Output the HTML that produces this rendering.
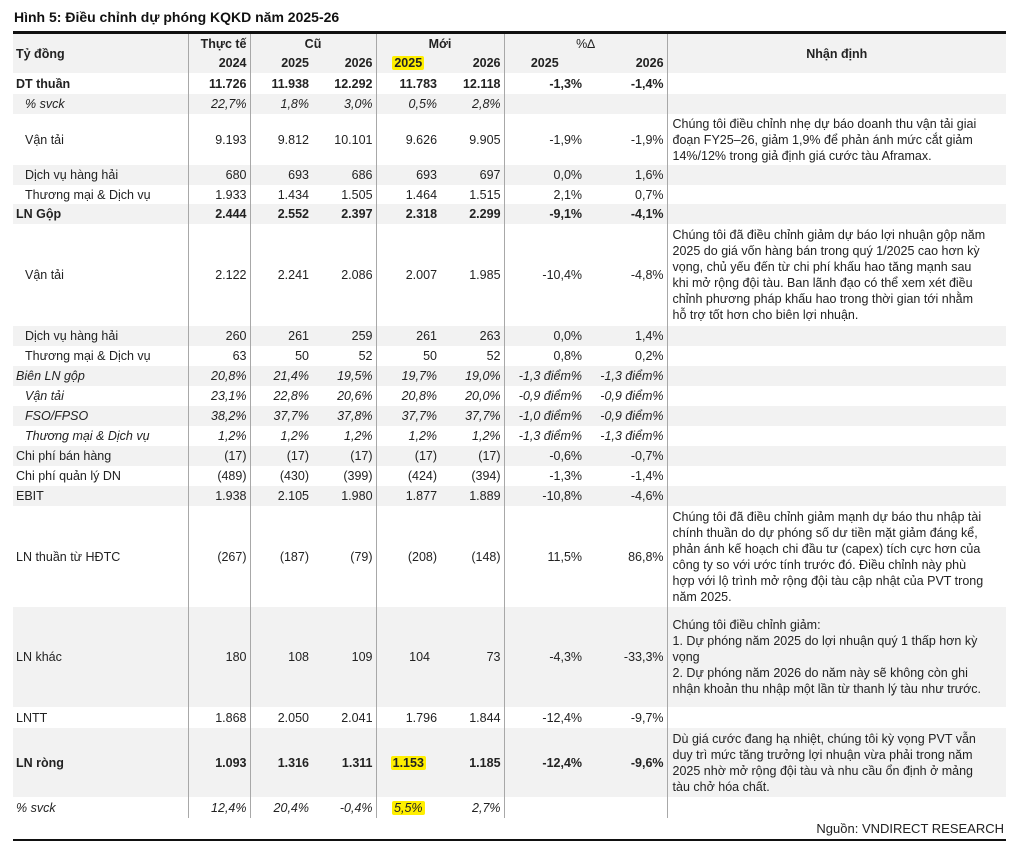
<!DOCTYPE html>
<html><head><meta charset="utf-8">
<style>
body{margin:0;width:1012px;height:842px;background:#fff;font-family:"Liberation Sans",Arial,sans-serif;color:#222;position:relative;overflow:hidden}
.title{position:absolute;left:14px;top:9px;font-size:14px;font-weight:bold;color:#111}
.topline{position:absolute;left:13px;top:31px;width:993px;height:3px;background:#111}
table{position:absolute;left:13px;top:34px;border-collapse:collapse;table-layout:fixed;width:993px;font-size:12.5px}
td{padding:0 3px;white-space:nowrap;text-align:right;overflow:visible;vertical-align:middle}
td.l{text-align:left;padding-left:3px}
td.i{padding-left:12px}
tr.g td{background:#f2f2f2}
.b td{font-weight:bold}
.it td{font-style:italic}
.vl{border-left:1px solid #a8a8a8}
td.n{text-align:left;white-space:nowrap;font-size:12.5px;line-height:16px;padding-left:5px;font-weight:normal;font-style:normal}
.hl{background:#ffef00;padding:0 2px;border-radius:2px}
.src{position:absolute;right:8px;top:821px;font-size:13px}
.botline{position:absolute;left:13px;top:839px;width:993px;height:2px;background:#111}
</style></head><body>
<div class="title">Hình 5: Điều chỉnh dự phóng KQKD năm 2025-26</div>
<div class="topline"></div>
<table>
<colgroup><col style="width:175px"><col style="width:62px"><col style="width:62px"><col style="width:64px"><col style="width:64px"><col style="width:64px"><col style="width:81px"><col style="width:82px"><col style="width:339px"></colgroup>
<tr class="g b" style="height:19px">
<td class="l" rowspan="2" style="background:#f2f2f2">Tỷ đồng</td><td class="vl">Thực tế</td><td class="vl" colspan="2" style="text-align:center">Cũ</td><td class="vl" colspan="2" style="text-align:center">Mới</td><td class="vl" colspan="2" style="text-align:center;font-weight:normal">%∆</td><td class="vl" rowspan="2" style="text-align:center;background:#f2f2f2">Nhận định</td></tr>
<tr class="g b" style="height:20px">
<td class="vl">2024</td><td class="vl">2025</td><td>2026</td><td class="vl" style="text-align:center"><span class="hl">2025</span></td><td>2026</td><td class="vl" style="text-align:center">2025</td><td>2026</td></tr>
<tr class="b" style="height:21px"><td class="l">DT thuần</td><td class="vl">11.726</td><td class="vl">11.938</td><td>12.292</td><td class="vl">11.783</td><td>12.118</td><td class="vl">-1,3%</td><td>-1,4%</td><td class="vl n"></td></tr>
<tr class="g it" style="height:20px"><td class="l i">% svck</td><td class="vl">22,7%</td><td class="vl">1,8%</td><td>3,0%</td><td class="vl">0,5%</td><td>2,8%</td><td class="vl"></td><td></td><td class="vl n"></td></tr>
<tr style="height:51px"><td class="l i">Vận tải</td><td class="vl">9.193</td><td class="vl">9.812</td><td>10.101</td><td class="vl">9.626</td><td>9.905</td><td class="vl">-1,9%</td><td>-1,9%</td><td class="vl n">Chúng tôi điều chỉnh nhẹ dự báo doanh thu vận tải giai<br>đoạn FY25–26, giảm 1,9% để phản ánh mức cắt giảm<br>14%/12% trong giả định giá cước tàu Aframax.</td></tr>
<tr class="g" style="height:20px"><td class="l i">Dịch vụ hàng hải</td><td class="vl">680</td><td class="vl">693</td><td>686</td><td class="vl">693</td><td>697</td><td class="vl">0,0%</td><td>1,6%</td><td class="vl n"></td></tr>
<tr style="height:19px"><td class="l i">Thương mại &amp; Dịch vụ</td><td class="vl">1.933</td><td class="vl">1.434</td><td>1.505</td><td class="vl">1.464</td><td>1.515</td><td class="vl">2,1%</td><td>0,7%</td><td class="vl n"></td></tr>
<tr class="g b" style="height:20px"><td class="l">LN Gộp</td><td class="vl">2.444</td><td class="vl">2.552</td><td>2.397</td><td class="vl">2.318</td><td>2.299</td><td class="vl">-9,1%</td><td>-4,1%</td><td class="vl n"></td></tr>
<tr style="height:102px"><td class="l i">Vận tải</td><td class="vl">2.122</td><td class="vl">2.241</td><td>2.086</td><td class="vl">2.007</td><td>1.985</td><td class="vl">-10,4%</td><td>-4,8%</td><td class="vl n">Chúng tôi đã điều chỉnh giảm dự báo lợi nhuận gộp năm<br>2025 do giá vốn hàng bán trong quý 1/2025 cao hơn kỳ<br>vọng, chủ yếu đến từ chi phí khấu hao tăng mạnh sau<br>khi mở rộng đội tàu. Ban lãnh đạo có thể xem xét điều<br>chỉnh phương pháp khấu hao trong thời gian tới nhằm<br>hỗ trợ tốt hơn cho biên lợi nhuận.</td></tr>
<tr class="g" style="height:20px"><td class="l i">Dịch vụ hàng hải</td><td class="vl">260</td><td class="vl">261</td><td>259</td><td class="vl">261</td><td>263</td><td class="vl">0,0%</td><td>1,4%</td><td class="vl n"></td></tr>
<tr style="height:20px"><td class="l i">Thương mại &amp; Dịch vụ</td><td class="vl">63</td><td class="vl">50</td><td>52</td><td class="vl">50</td><td>52</td><td class="vl">0,8%</td><td>0,2%</td><td class="vl n"></td></tr>
<tr class="g it" style="height:20px"><td class="l">Biên LN gộp</td><td class="vl">20,8%</td><td class="vl">21,4%</td><td>19,5%</td><td class="vl">19,7%</td><td>19,0%</td><td class="vl">-1,3 điểm%</td><td>-1,3 điểm%</td><td class="vl n"></td></tr>
<tr class="it" style="height:20px"><td class="l i">Vận tải</td><td class="vl">23,1%</td><td class="vl">22,8%</td><td>20,6%</td><td class="vl">20,8%</td><td>20,0%</td><td class="vl">-0,9 điểm%</td><td>-0,9 điểm%</td><td class="vl n"></td></tr>
<tr class="g it" style="height:20px"><td class="l i">FSO/FPSO</td><td class="vl">38,2%</td><td class="vl">37,7%</td><td>37,8%</td><td class="vl">37,7%</td><td>37,7%</td><td class="vl">-1,0 điểm%</td><td>-0,9 điểm%</td><td class="vl n"></td></tr>
<tr class="it" style="height:20px"><td class="l i">Thương mại &amp; Dịch vụ</td><td class="vl">1,2%</td><td class="vl">1,2%</td><td>1,2%</td><td class="vl">1,2%</td><td>1,2%</td><td class="vl">-1,3 điểm%</td><td>-1,3 điểm%</td><td class="vl n"></td></tr>
<tr class="g" style="height:20px"><td class="l">Chi phí bán hàng</td><td class="vl">(17)</td><td class="vl">(17)</td><td>(17)</td><td class="vl">(17)</td><td>(17)</td><td class="vl">-0,6%</td><td>-0,7%</td><td class="vl n"></td></tr>
<tr style="height:20px"><td class="l">Chi phí quản lý DN</td><td class="vl">(489)</td><td class="vl">(430)</td><td>(399)</td><td class="vl">(424)</td><td>(394)</td><td class="vl">-1,3%</td><td>-1,4%</td><td class="vl n"></td></tr>
<tr class="g" style="height:20px"><td class="l">EBIT</td><td class="vl">1.938</td><td class="vl">2.105</td><td>1.980</td><td class="vl">1.877</td><td>1.889</td><td class="vl">-10,8%</td><td>-4,6%</td><td class="vl n"></td></tr>
<tr style="height:101px"><td class="l">LN thuần từ HĐTC</td><td class="vl">(267)</td><td class="vl">(187)</td><td>(79)</td><td class="vl">(208)</td><td>(148)</td><td class="vl">11,5%</td><td>86,8%</td><td class="vl n">Chúng tôi đã điều chỉnh giảm mạnh dự báo thu nhập tài<br>chính thuần do dự phóng số dư tiền mặt giảm đáng kể,<br>phản ánh kế hoạch chi đầu tư (capex) tích cực hơn của<br>công ty so với ước tính trước đó. Điều chỉnh này phù<br>hợp với lộ trình mở rộng đội tàu cập nhật của PVT trong<br>năm 2025.</td></tr>
<tr class="g" style="height:100px"><td class="l">LN khác</td><td class="vl">180</td><td class="vl">108</td><td>109</td><td class="vl" style="padding-right:10px">104</td><td>73</td><td class="vl">-4,3%</td><td>-33,3%</td><td class="vl n">Chúng tôi điều chỉnh giảm:<br>1. Dự phóng năm 2025 do lợi nhuận quý 1 thấp hơn kỳ<br>vọng<br>2. Dự phóng năm 2026 do năm này sẽ không còn ghi<br>nhận khoản thu nhập một lần từ thanh lý tàu như trước.</td></tr>
<tr style="height:21px"><td class="l">LNTT</td><td class="vl">1.868</td><td class="vl">2.050</td><td>2.041</td><td class="vl">1.796</td><td>1.844</td><td class="vl">-12,4%</td><td>-9,7%</td><td class="vl n"></td></tr>
<tr class="g b" style="height:69px"><td class="l">LN ròng</td><td class="vl">1.093</td><td class="vl">1.316</td><td>1.311</td><td class="vl" style="text-align:center"><span class="hl">1.153</span></td><td>1.185</td><td class="vl">-12,4%</td><td>-9,6%</td><td class="vl n">Dù giá cước đang hạ nhiệt, chúng tôi kỳ vọng PVT vẫn<br>duy trì mức tăng trưởng lợi nhuận vừa phải trong năm<br>2025 nhờ mở rộng đội tàu và nhu cầu ổn định ở mảng<br>tàu chở hóa chất.</td></tr>
<tr class="it" style="height:21px"><td class="l">% svck</td><td class="vl">12,4%</td><td class="vl">20,4%</td><td>-0,4%</td><td class="vl" style="text-align:center"><span class="hl">5,5%</span></td><td>2,7%</td><td class="vl"></td><td></td><td class="vl n"></td></tr>
</table>
<div class="src">Nguồn: VNDIRECT RESEARCH</div>
<div class="botline"></div>
</body></html>
